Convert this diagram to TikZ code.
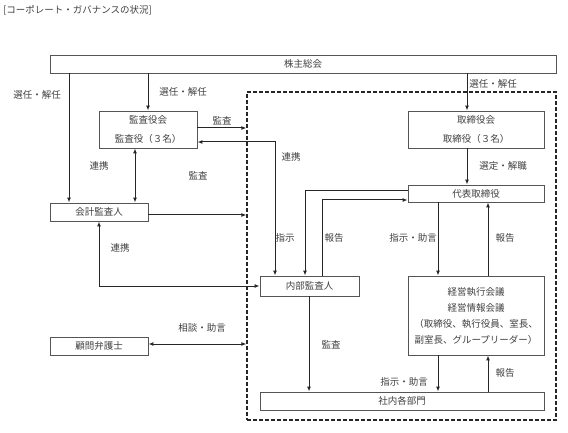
\documentclass[tikz,border=0pt]{standalone}
\usepackage{fontspec}
\setmainfont{Noto Sans CJK JP}
\usetikzlibrary{arrows.meta}
\definecolor{txt}{HTML}{404040}
\definecolor{bord}{HTML}{555555}
\tikzset{
  box/.style={draw=bord, line width=0.9pt, fill=white, inner sep=0pt, text=txt, align=center,
    font=\fontsize{9.5}{16}\selectfont},
  lbl/.style={text=txt, inner sep=0pt, font=\fontsize{9.5}{12}\selectfont},
  arr/.style={line width=1pt, draw=black!85, -{Latex[length=5pt,width=4pt]}},
  arrboth/.style={line width=1pt, draw=black!85, {Latex[length=5pt,width=4pt]}-{Latex[length=5pt,width=4pt]}},
  grpbox/.style={draw=black!85, line width=1.2pt, dash pattern=on 4pt off 2pt, inner sep=0pt}
}
\begin{document}
\begin{tikzpicture}[x=1pt,y=-1pt]
\useasboundingbox (0,0) rectangle (568,433);
% column / row helper coordinates
\foreach \n in {69,99,135,148,275,305,309,322,438,467,488} {\coordinate (x\n) at (\n,0);}
\foreach \n in {128,142,191,200,215,344} {\coordinate (y\n) at (0,\n);}

\node[lbl, anchor=west] (title) at (3,10) {[コーポレート・ガバナンスの状況]};

\node[grpbox, minimum width=309pt, minimum height=328pt] (grp) at (401.5,256) {};

\node[box, minimum width=506pt, minimum height=18pt] (soukai) at (303,64) {株主総会};
\node[box, minimum width=98pt, minimum height=37pt, font=\fontsize{9.5}{19}\selectfont] (kansa) at (148,129.5) {監査役会\\監査役（３名）};
\node[box, minimum width=136pt, minimum height=37pt, font=\fontsize{9.5}{19}\selectfont] (tori) at (476,129.5) {取締役会\\取締役（３名）};
\node[box, minimum width=136pt, minimum height=17pt] (daihyo) at (476,193.5) {代表取締役};
\node[box, minimum width=98pt, minimum height=18pt] (kaikei) at (99,212) {会計監査人};
\node[box, minimum width=99pt, minimum height=20pt] (naibu) at (309.5,286) {内部監査人};
\node[box, minimum width=136pt, minimum height=79pt] (keiei) at (476,315.5) {経営執行会議\\経営情報会議\\（取締役、執行役員、室長、\\副室長、グループリーダー）};
\node[box, minimum width=98pt, minimum height=18pt] (komon) at (99,346) {顧問弁護士};
\node[box, minimum width=284pt, minimum height=18pt] (shanai) at (402,401) {社内各部門};

% connectors
\draw[arr] (soukai.south -| x69) -- (kaikei.north -| x69);
\draw[arr] (soukai.south -| x148) -- (kansa.north -| x148);
\draw[arr] (soukai.south -| x467) -- (tori.north -| x467);
\draw[arr] (tori.south -| x467) -- (daihyo.north -| x467);
\draw[arrboth] (kansa.south -| x135) -- (kaikei.north -| x135);
\draw[arr] (kansa.east |- y128) -- (grp.west |- y128);
\draw[arrboth] (kansa.east |- y142) -| (naibu.north -| x275);
\draw[arr] (kaikei.east |- y215) -- (grp.west |- y215);
\draw[arrboth] (kaikei.south) |- (naibu.west);
\draw[arrboth] (komon.east |- y344) -- (grp.west |- y344);
\draw[arr] (daihyo.west |- y191) -| (naibu.north -| x305);
\draw[arr] (naibu.north -| x322) |- (daihyo.west |- y200);
\draw[arr] (daihyo.south -| x438) -- (keiei.north -| x438);
\draw[arr] (keiei.north -| x488) -- (daihyo.south -| x488);
\draw[arr] (naibu.south -| x309) -- (shanai.north -| x309);
\draw[arr] (keiei.south -| x438) -- (shanai.north -| x438);
\draw[arr] (shanai.north -| x488) -- (keiei.south -| x488);

% labels
\node[lbl] (l1) at (37,95) {選任・解任};
\node[lbl] (l2) at (183,92) {選任・解任};
\node[lbl] (l3) at (493,84) {選任・解任};
\node[lbl] (l4) at (222,121) {監査};
\node[lbl] (l5) at (99,166) {連携};
\node[lbl] (l6) at (198,176) {監査};
\node[lbl] (l7) at (291,157) {連携};
\node[lbl] (l8) at (503,166) {選定・解職};
\node[lbl] (l9) at (285,238) {指示};
\node[lbl] (l10) at (334,238) {報告};
\node[lbl] (l11) at (413,238) {指示・助言};
\node[lbl] (l12) at (505,238) {報告};
\node[lbl] (l13) at (120,248) {連携};
\node[lbl] (l14) at (202,328) {相談・助言};
\node[lbl] (l15) at (331,345) {監査};
\node[lbl] (l16) at (404,382) {指示・助言};
\node[lbl] (l17) at (505,373) {報告};
\end{tikzpicture}
\end{document}
